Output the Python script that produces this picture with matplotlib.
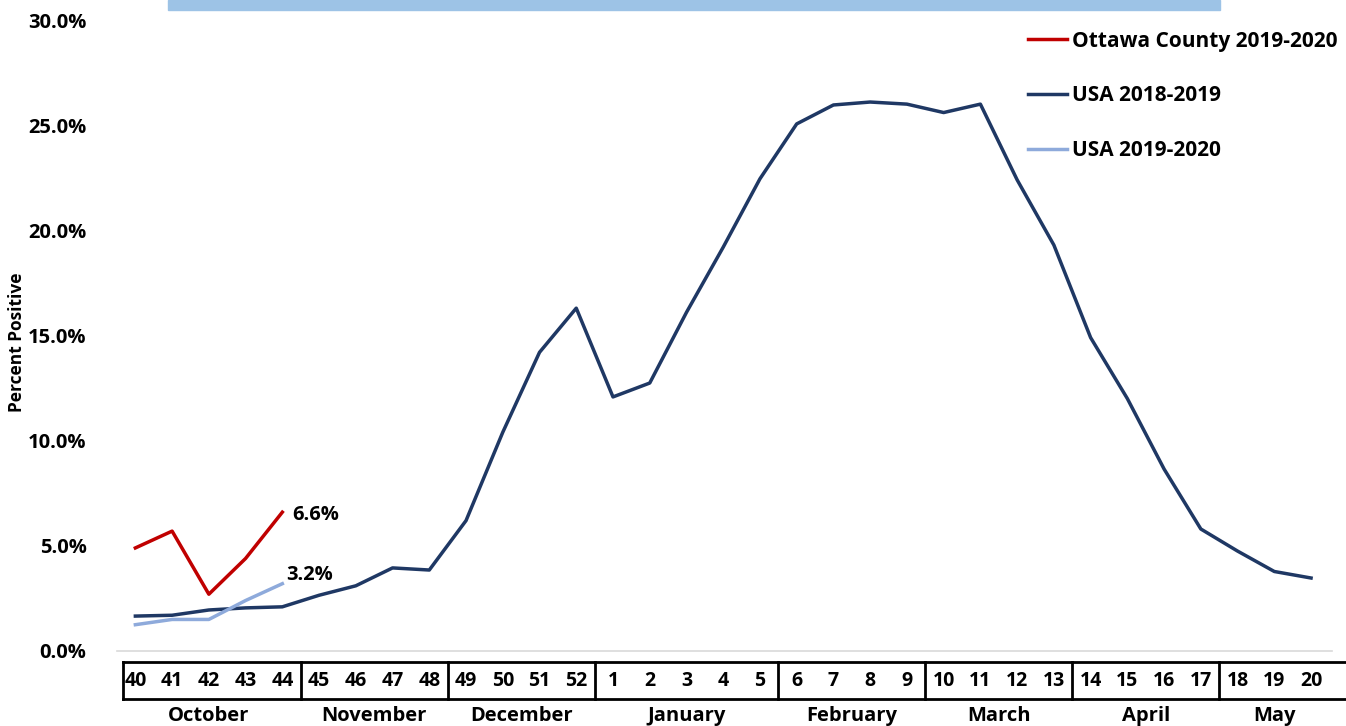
import matplotlib.pyplot as plt
import matplotlib.transforms as mtransforms
from matplotlib.patches import Rectangle
import numpy as np

plt.rcParams['font.family'] = ['Open Sans', 'DejaVu Sans']

# weeks of the flu season
weeks = [40, 41, 42, 43, 44, 45, 46, 47, 48, 49, 50, 51, 52,
         1, 2, 3, 4, 5, 6, 7, 8, 9, 10, 11, 12, 13, 14, 15, 16, 17, 18, 19, 20]
months = ['October', 'November', 'December', 'January', 'February',
          'March', 'April', 'May']
month_counts = [5, 4, 4, 5, 4, 4, 4, 3]

usa_1819 = [1.66, 1.7, 1.95, 2.05, 2.1, 2.65, 3.1, 3.95, 3.85, 6.2, 10.4, 14.2, 16.3,
            12.08, 12.74, 16.1, 19.2, 22.45, 25.06, 25.96, 26.1, 26.0, 25.6, 26.0,
            22.4, 19.3, 14.9, 12.0, 8.65, 5.8, 4.75, 3.78, 3.47]
ottawa_1920 = [4.9, 5.7, 2.7, 4.4, 6.6]
usa_1920 = [1.25, 1.5, 1.5, 2.4, 3.2]

red = '#C00000'
navy = '#1F3864'
light = '#8EAADB'

fig = plt.figure(figsize=(13.46, 7.26), dpi=100)
W, H = 1346, 726
ax = fig.add_axes([117 / W, 75 / H, (1332 - 117) / W, (651 - 20) / H])

x = np.arange(len(weeks))
ax.plot(x[:len(ottawa_1920)], ottawa_1920, color=red, lw=2.5, label='Ottawa County 2019-2020')
ax.plot(x, usa_1819, color=navy, lw=2.5, label='USA 2018-2019')
ax.plot(x[:len(usa_1920)], usa_1920, color=light, lw=2.5, label='USA 2019-2020')

ax.annotate(f'{ottawa_1920[-1]:.1f}%', (x[len(ottawa_1920) - 1], ottawa_1920[-1]),
            xytext=(7, -2), textcoords='offset points', ha='left', va='center',
            fontsize=14.5, fontweight='bold')
ax.annotate(f'{usa_1920[-1]:.1f}%', (x[len(usa_1920) - 1], usa_1920[-1]),
            xytext=(3, 6), textcoords='offset points', ha='left', va='center',
            fontsize=14.5, fontweight='bold')

ax.set_xlim(-0.5, 32.57)
ax.set_ylim(0, 30)
ax.set_yticks(np.arange(0, 31, 5))
ax.set_yticklabels([f'{v:.1f}%' for v in np.arange(0, 31, 5)], fontsize=14.5, fontweight='bold')
ax.tick_params(axis='y', length=0, pad=22)
ax.set_xticks([])
for s in ['top', 'right', 'left']:
    ax.spines[s].set_visible(False)
ax.spines['bottom'].set_color('#D9D9D9')
ax.spines['bottom'].set_linewidth(1.2)

ax.set_ylabel('Percent Positive', fontsize=12.5, fontweight='bold')
ax.yaxis.set_label_coords(-91 / 1215, 0.49)

# category table under the axis
trans = mtransforms.blended_transform_factory(ax.transData, ax.transAxes)
ytop = -11 / 631
ybot = -48 / 631
xl, xr = -0.33, 33.0
ax.plot([xl, xr], [ytop, ytop], color='black', lw=2, transform=trans, clip_on=False)
ax.plot([xl, xr], [ybot, ybot], color='black', lw=2, transform=trans, clip_on=False)
ax.plot([xl, xl], [ytop, ybot], color='black', lw=2, transform=trans, clip_on=False)
for i, w in enumerate(weeks):
    ax.text(i, (ytop + ybot) / 2, str(w), transform=trans, ha='center', va='center',
            fontsize=14, fontweight='bold')
start = 0
for m, c in zip(months, month_counts):
    end = start + c
    if end < len(weeks):
        ax.plot([end - 0.5, end - 0.5], [ytop, ybot], color='black', lw=2,
                transform=trans, clip_on=False)
    ax.text((start + end - 1) / 2, -65 / 631, m, transform=trans, ha='center',
            va='center', fontsize=14.5, fontweight='bold')
    start = end

leg = fig.legend(loc='upper left', bbox_to_anchor=(1009 / W, 1 - 12 / H),
                 frameon=False, prop={'size': 15, 'weight': 'bold'},
                 handlelength=1.9, handletextpad=0.2, labelspacing=1.62)

fig.patches.append(Rectangle((168 / W, 1 - 10 / H), (1220 - 168) / W, 10 / H,
                             transform=fig.transFigure, color='#9DC3E6'))

fig.savefig('out.png', dpi=100)
